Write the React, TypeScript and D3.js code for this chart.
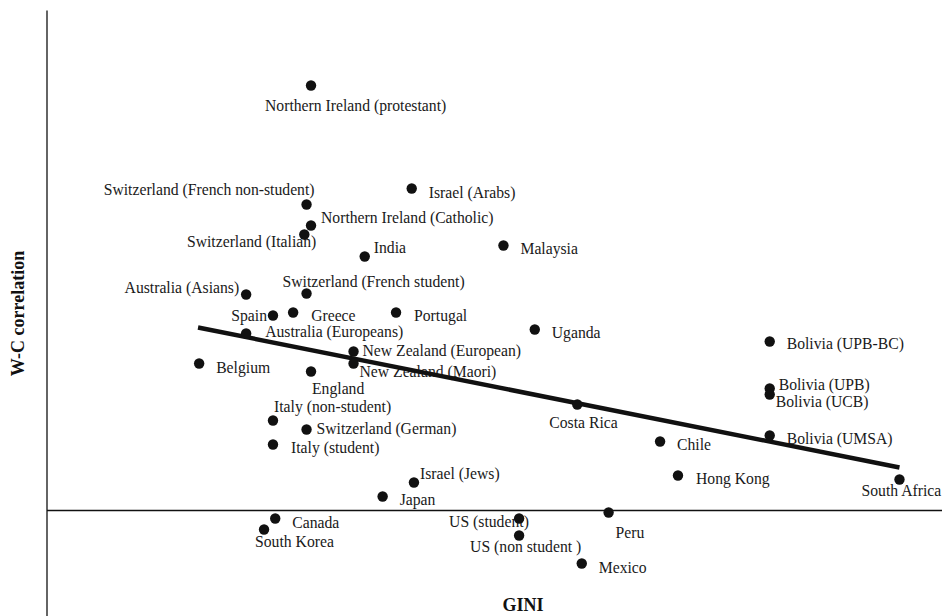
import React from 'react';
import * as d3 from 'd3';

// samples (label names as printed)
const names = [
  'Northern Ireland (protestant)', 'Switzerland (French non-student)', 'Northern Ireland (Catholic)',
  'Switzerland (Italian)', 'Israel (Arabs)', 'India', 'Malaysia', 'Switzerland (French student)',
  'Australia (Asians)', 'Spain', 'Greece', 'Portugal', 'Australia (Europeans)', 'Uganda',
  'New Zealand (European)', 'New Zealand (Maori)', 'Belgium', 'England', 'Italy (non-student)',
  'Switzerland (German)', 'Italy (student)', 'Israel (Jews)', 'Japan', 'Canada', 'South Korea',
  'US (student)', 'US (non student )', 'Peru', 'Mexico', 'Costa Rica', 'Chile', 'Hong Kong',
  'Bolivia (UPB-BC)', 'Bolivia (UPB)', 'Bolivia (UCB)', 'Bolivia (UMSA)', 'South Africa',
];

// GINI index per sample
const gini = [
  31.8, 31.6, 31.8, 31.5, 36.3, 34.2, 40.4, 31.6,
  28.9, 30.1, 31.0, 35.6, 28.9, 41.8,
  33.7, 33.7, 26.8, 31.8, 30.1,
  31.6, 30.1, 36.4, 35.0, 30.2, 29.7,
  41.1, 41.1, 45.1, 43.9, 43.7, 47.4, 48.2,
  52.3, 52.3, 52.3, 52.3, 58.1,
];

// W-C correlation per sample
const wc = [
  0.425, 0.306, 0.285, 0.276, 0.322, 0.254, 0.265, 0.217,
  0.216, 0.195, 0.198, 0.198, 0.177, 0.181,
  0.159, 0.147, 0.147, 0.139, 0.090,
  0.081, 0.066, 0.028, 0.014, -0.008, -0.019,
  -0.008, -0.025, -0.002, -0.053, 0.106, 0.069, 0.035,
  0.169, 0.122, 0.116, 0.075, 0.031,
];

// fitted line end points
const fitGini = [26.75, 58.1];
const fitWC = [0.183, 0.043];

// label placement relative to the dot: [dx, dy, anchor]
const labelPos: Record<string, [number, number, string]> = {
  'Northern Ireland (protestant)': [-46, 20, 'start'],
  'Switzerland (French non-student)': [8, -15, 'end'],
  'Northern Ireland (Catholic)': [10, -8, 'start'],
  'Switzerland (Italian)': [12, 7, 'end'],
  'Israel (Arabs)': [17, 4, 'start'],
  'India': [9, -9, 'start'],
  'Malaysia': [17, 3, 'start'],
  'Switzerland (French student)': [-24, -12, 'start'],
  'Australia (Asians)': [-7, -7, 'end'],
  'Spain': [-6, 0, 'end'],
  'Greece': [18, 3, 'start'],
  'Portugal': [18, 3, 'start'],
  'Australia (Europeans)': [19, -2, 'start'],
  'Uganda': [17, 3, 'start'],
  'New Zealand (European)': [9, -1, 'start'],
  'New Zealand (Maori)': [6, 8, 'start'],
  'Belgium': [17, 4, 'start'],
  'England': [1, 17, 'start'],
  'Italy (non-student)': [1, -14, 'start'],
  'Switzerland (German)': [10, -1, 'start'],
  'Italy (student)': [18, 3, 'start'],
  'Israel (Jews)': [6, -9, 'start'],
  'Japan': [17, 3, 'start'],
  'Canada': [17, 4, 'start'],
  'South Korea': [-9, 12, 'start'],
  'US (student)': [-70, 3, 'start'],
  'US (non student )': [-49, 11, 'start'],
  'Peru': [7, 20, 'start'],
  'Mexico': [17, 4, 'start'],
  'Costa Rica': [-28, 18, 'start'],
  'Chile': [17, 3, 'start'],
  'Hong Kong': [18, 3, 'start'],
  'Bolivia (UPB-BC)': [17, 2, 'start'],
  'Bolivia (UPB)': [9, -4, 'start'],
  'Bolivia (UCB)': [6, 7, 'start'],
  'Bolivia (UMSA)': [17, 3, 'start'],
  'South Africa': [-38, 11, 'start'],
};

const width = 942;
const height = 616;

export default function App() {
  const x = d3.scaleLinear().domain([20, 60]).range([47, 942]);
  const y = d3.scaleLinear().domain([-0.1, 0.5]).range([610.5, 10.5]);

  const points = names.map((n, i) => ({ name: n, g: gini[i], c: wc[i] }));
  const fit = d3.line<number>()
    .x((_, i) => x(fitGini[i]))
    .y((_, i) => y(fitWC[i]));

  const font = '"Liberation Serif", "Times New Roman", serif';

  return (
    <svg width={width} height={height}
      style={{ position: 'absolute', left: 0, top: 0, background: '#fff' }}
      fontFamily={font}>
      {/* axes */}
      <line x1={x(20)} x2={x(20)} y1={y(0.5)} y2={height} stroke="#111" strokeWidth={1.3} />
      <line x1={x(20)} x2={width} y1={y(0)} y2={y(0)} stroke="#111" strokeWidth={1.3} />

      {/* labels */}
      {points.map(p => {
        const [dx, dy, anchor] = labelPos[p.name];
        return (
          <text key={p.name} x={x(p.g) + dx} y={y(p.c) + dy} dy="0.35em"
            textAnchor={anchor} fontSize={15.7} fill="#1a1a1a">{p.name}</text>
        );
      })}

      {/* regression line */}
      <path d={fit([0, 1]) || ''} fill="none" stroke="#111" strokeWidth={4.5} />

      {/* dots */}
      {points.map(p => (
        <circle key={'c' + p.name} cx={x(p.g)} cy={y(p.c)} r={5.2} fill="#111" />
      ))}

      {/* axis titles */}
      <text x={523} y={611} textAnchor="middle" fontWeight="bold" fontSize={18} fill="#111">GINI</text>
      <text transform="translate(24,313.5) rotate(-90)" textAnchor="middle" fontWeight="bold"
        fontSize={18} fill="#111">W-C correlation</text>
    </svg>
  );
}
